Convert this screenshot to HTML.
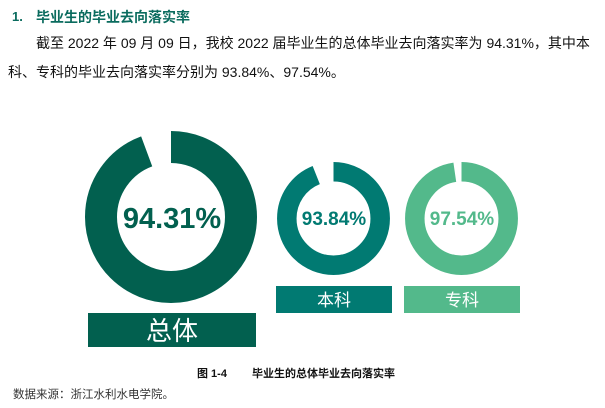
<!DOCTYPE html>
<html><head><meta charset="utf-8"><style>
body{margin:0;width:605px;height:408px;background:#fff;overflow:hidden;font-family:"Liberation Sans","Noto Sans CJK SC",sans-serif;}
.t{position:absolute;white-space:nowrap;}
</style></head><body>
<div class="t" style="left:12px;top:9px;font-size:13px;font-weight:bold;color:#0a6b5e;">1.</div>
<div class="t" style="left:36px;top:7px;font-size:14px;font-weight:bold;color:#0a6b5e;">毕业生的毕业去向落实率</div>
<div class="t" style="left:36px;top:33px;font-size:14px;color:#111;">截至 2022 年 09 月 09 日，我校 2022 届毕业生的总体毕业去向落实率为 94.31%，其中本</div>
<div class="t" style="left:8px;top:62px;font-size:14px;color:#111;">科、专科的毕业去向落实率分别为 93.84%、97.54%。</div>
<svg width="605" height="408" style="position:absolute;left:0;top:0" font-family="Liberation Sans, sans-serif">
<g transform="rotate(-90 171 217)">
<circle cx="171" cy="217" r="70" fill="none" stroke="#02604f" stroke-width="32" stroke-dasharray="414.8 1000"/></g>
<text x="172" y="228" text-anchor="middle" font-size="29" font-weight="bold" fill="#02604f">94.31%</text>
<g transform="rotate(-90 333.5 218.5)">
<circle cx="333.5" cy="218.5" r="46.7" fill="none" stroke="#017a72" stroke-width="19.5" stroke-dasharray="275.3 1000"/></g>
<text x="334" y="225" text-anchor="middle" font-size="19" font-weight="bold" fill="#017a72">93.84%</text>
<g transform="rotate(-90 461.5 218.5)">
<circle cx="461.5" cy="218.5" r="46.7" fill="none" stroke="#53b98b" stroke-width="19.5" stroke-dasharray="286.2 1000"/></g>
<text x="462" y="225" text-anchor="middle" font-size="19" font-weight="bold" fill="#53b98b">97.54%</text>
<rect x="88" y="313" width="168" height="34" fill="#02604f"/>
<text x="172" y="340" text-anchor="middle" font-size="26" fill="#fff" font-family="Noto Sans CJK SC, sans-serif">总体</text>
<rect x="276" y="286" width="116" height="27" fill="#017a72"/>
<text x="334" y="306" text-anchor="middle" font-size="17" fill="#fff" font-family="Noto Sans CJK SC, sans-serif">本科</text>
<rect x="404" y="286" width="116" height="27" fill="#53b98b"/>
<text x="462" y="306" text-anchor="middle" font-size="17" fill="#fff" font-family="Noto Sans CJK SC, sans-serif">专科</text>
</svg>
<div class="t" style="left:197px;top:365px;font-size:11px;font-weight:bold;color:#111;">图 1-4</div>
<div class="t" style="left:252px;top:365px;font-size:11px;font-weight:bold;color:#111;">毕业生的总体毕业去向落实率</div>
<div class="t" style="left:13px;top:386px;font-size:11.5px;color:#333;">数据来源：浙江水利水电学院。</div>
</body></html>
